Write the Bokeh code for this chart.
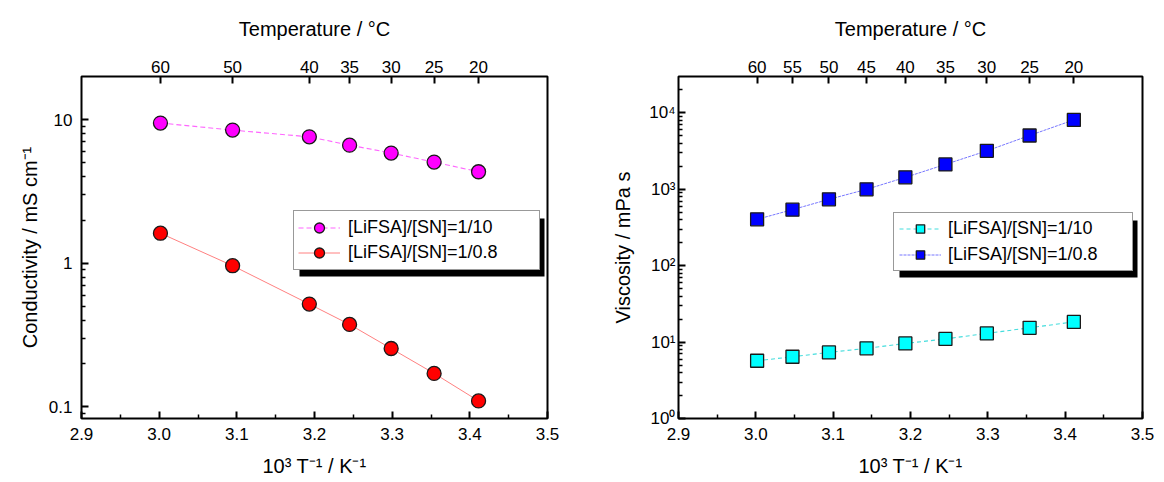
from bokeh.plotting import figure
from bokeh.models import (LinearAxis, FixedTicker, CustomJSTickFormatter, PrintfTickFormatter,
                          Legend, LegendItem, BoxAnnotation, Range1d, ColumnDataSource)
from bokeh.layouts import row
from bokeh.embed import file_html
from bokeh.resources import INLINE

# ---- data -------------------------------------------------------------
series_labels = ["[LiFSA]/[SN]=1/10", "[LiFSA]/[SN]=1/0.8"]

# ionic conductivity / mS cm-1
cond_temp_c = [60, 50, 40, 35, 30, 25, 20]
cond_1_10 = [9.48, 8.47, 7.60, 6.65, 5.86, 5.07, 4.34]
cond_1_08 = [1.62, 0.962, 0.52, 0.375, 0.255, 0.171, 0.110]

# viscosity / mPa s
visc_temp_c = [60, 55, 50, 45, 40, 35, 30, 25, 20]
visc_1_10 = [5.7, 6.43, 7.33, 8.28, 9.6, 11.0, 13.0, 15.4, 18.4]
visc_1_08 = [405, 542, 740, 1000, 1435, 2120, 3190, 5070, 8110]

x_ticks = [2.9, 3.0, 3.1, 3.2, 3.3, 3.4, 3.5]
x_minor = [2.95, 3.05, 3.15, 3.25, 3.35, 3.45]
cond_ticks = [0.1, 1, 10]
visc_ticks = [1, 10, 100, 1000, 10000]

FONT = "Liberation Sans"
TICK_SIZE = "17px"
TITLE_SIZE = "20px"
LEGEND_SIZE = "18px"


def inv_t(temps):
    """1000/T in K^-1 for temperatures given in degrees Celsius."""
    return [1000.0 / (t + 273.15) for t in temps]


def log_minor(first_exp, last_exp, extra=()):
    ticks = [k * 10.0 ** e for e in range(first_exp, last_exp + 1) for k in range(2, 10)]
    return ticks + list(extra)


def base_figure(width, border_left, border_right, y_start, y_end):
    p = figure(width=width, height=482, x_range=Range1d(2.9, 3.5),
               y_range=Range1d(y_start, y_end), y_axis_type="log",
               output_backend="svg", toolbar_location=None,
               min_border_left=border_left, min_border_right=border_right,
               min_border_top=76, min_border_bottom=64)
    p.xgrid.visible = False
    p.ygrid.visible = False
    p.outline_line_color = "black"
    p.outline_line_width = 2
    p.outline_line_alpha = 1
    p.background_fill_color = "white"
    p.border_fill_color = "white"
    return p


def style_axis(ax, standoff):
    ax.axis_line_color = None
    ax.major_tick_in = 7
    ax.major_tick_out = 0
    ax.minor_tick_in = 4
    ax.minor_tick_out = 0
    ax.major_tick_line_width = 2
    ax.minor_tick_line_width = 1.5
    ax.major_tick_line_color = "black"
    ax.minor_tick_line_color = "black"
    ax.major_label_standoff = standoff
    ax.major_label_text_font = FONT
    ax.major_label_text_font_size = TICK_SIZE
    ax.major_label_text_color = "black"
    ax.axis_label_text_font = FONT
    ax.axis_label_text_font_size = TITLE_SIZE
    ax.axis_label_text_font_style = "normal"
    ax.axis_label_text_color = "black"


def finish_x_axes(p, temps):
    bottom = p.xaxis[0]
    bottom.ticker = FixedTicker(ticks=x_ticks, minor_ticks=x_minor)
    bottom.formatter = PrintfTickFormatter(format="%.1f")
    bottom.axis_label = "10³ T⁻¹ / K⁻¹"
    style_axis(bottom, 9)
    bottom.axis_label_standoff = 12

    top = LinearAxis(
        ticker=FixedTicker(ticks=inv_t(temps), minor_ticks=[]),
        formatter=CustomJSTickFormatter(code="return Math.round(1000 / tick - 273.15).toString();"),
        axis_label="Temperature / °C")
    style_axis(top, 4)
    top.axis_label_standoff = 18
    p.add_layout(top, "above")


def add_legend(p, items, left, bottom, padding, spacing, glyph_w, glyph_h,
               standoff, label_w):
    width = 2 * padding + glyph_w + standoff + label_w
    height = 2 * padding + 2 * glyph_h + spacing
    shadow = BoxAnnotation(left=left + 6, right=left + 6 + width,
                           bottom=bottom - 6, top=bottom - 6 + height,
                           left_units="screen", right_units="screen",
                           top_units="screen", bottom_units="screen",
                           fill_color="black", fill_alpha=1, line_color=None)
    p.add_layout(shadow)
    legend = Legend(items=items, location=(left, bottom), padding=padding,
                    spacing=spacing, glyph_width=glyph_w, glyph_height=glyph_h,
                    label_height=glyph_h, label_width=label_w, label_standoff=standoff,
                    label_text_font=FONT, label_text_font_size=LEGEND_SIZE,
                    label_text_color="black", border_line_color="#333333",
                    border_line_width=1, background_fill_color="white",
                    background_fill_alpha=1, margin=0)
    p.add_layout(legend, "center")


# ---- left panel: conductivity ----------------------------------------
p1 = base_figure(580, 81, 33, 0.083, 20)
src_c = ColumnDataSource(dict(x=inv_t(cond_temp_c), a=cond_1_10, b=cond_1_08))

l1a = p1.line("x", "a", source=src_c, line_color="#ff66ff", line_width=1.1,
              line_dash="5 3")
s1a = p1.scatter("x", "a", source=src_c, marker="circle", size=14,
                 fill_color="#ff00ff", line_color="#1a1a1a", line_width=1.3)
l1b = p1.line("x", "b", source=src_c, line_color="#ff8080", line_width=1.0)
s1b = p1.scatter("x", "b", source=src_c, marker="circle", size=14,
                 fill_color="#ff0000", line_color="#1a1a1a", line_width=1.3)

ya = p1.yaxis[0]
ya.ticker = FixedTicker(ticks=cond_ticks, minor_ticks=log_minor(-1, 0, extra=[0.09]))
ya.formatter = CustomJSTickFormatter(code="return String(tick);")
ya.axis_label = "Conductivity / mS cm⁻¹"
style_axis(ya, 9)
ya.axis_label_standoff = 5
finish_x_axes(p1, cond_temp_c)

add_legend(p1, [LegendItem(label=series_labels[0], renderers=[l1a, s1a]),
                LegendItem(label=series_labels[1], renderers=[l1b, s1b])],
           left=212, bottom=148, padding=4, spacing=0, glyph_w=42, glyph_h=25,
           standoff=8, label_w=187)

# ---- right panel: viscosity ------------------------------------------
p2 = base_figure(584, 98, 22, 1, 30000)
src_v = ColumnDataSource(dict(x=inv_t(visc_temp_c), a=visc_1_10, b=visc_1_08))

l2a = p2.line("x", "a", source=src_v, line_color="#44dddd", line_width=1.1,
              line_dash="4 3")
s2a = p2.scatter("x", "a", source=src_v, marker="square", size=13,
                 fill_color="#00ffff", line_color="#1a1a1a", line_width=1.3)
l2b = p2.line("x", "b", source=src_v, line_color="#7777ff", line_width=1.0,
              line_dash="3 1")
s2b = p2.scatter("x", "b", source=src_v, marker="square", size=13,
                 fill_color="#0000ff", line_color="#1a1a1a", line_width=1.3)

yb = p2.yaxis[0]
yb.ticker = FixedTicker(ticks=visc_ticks, minor_ticks=log_minor(0, 3, extra=[20000]))
yb.formatter = CustomJSTickFormatter(code="""
const sup = ["\u2070", "\u00b9", "\u00b2", "\u00b3", "\u2074", "\u2075"];
return "10" + sup[Math.round(Math.log10(tick))];
""")
yb.axis_label = "Viscosity / mPa s"
style_axis(yb, 3)
yb.axis_label_standoff = 12
finish_x_axes(p2, visc_temp_c)

add_legend(p2, [LegendItem(label=series_labels[0], renderers=[l2a, s2a]),
                LegendItem(label=series_labels[1], renderers=[l2b, s2b])],
           left=215, bottom=147, padding=5, spacing=5, glyph_w=42, glyph_h=21,
           standoff=7, label_w=179)

layout = row(p1, p2)
with open("out.html", "w", encoding="utf-8") as f:
    f.write(file_html(layout, INLINE))
